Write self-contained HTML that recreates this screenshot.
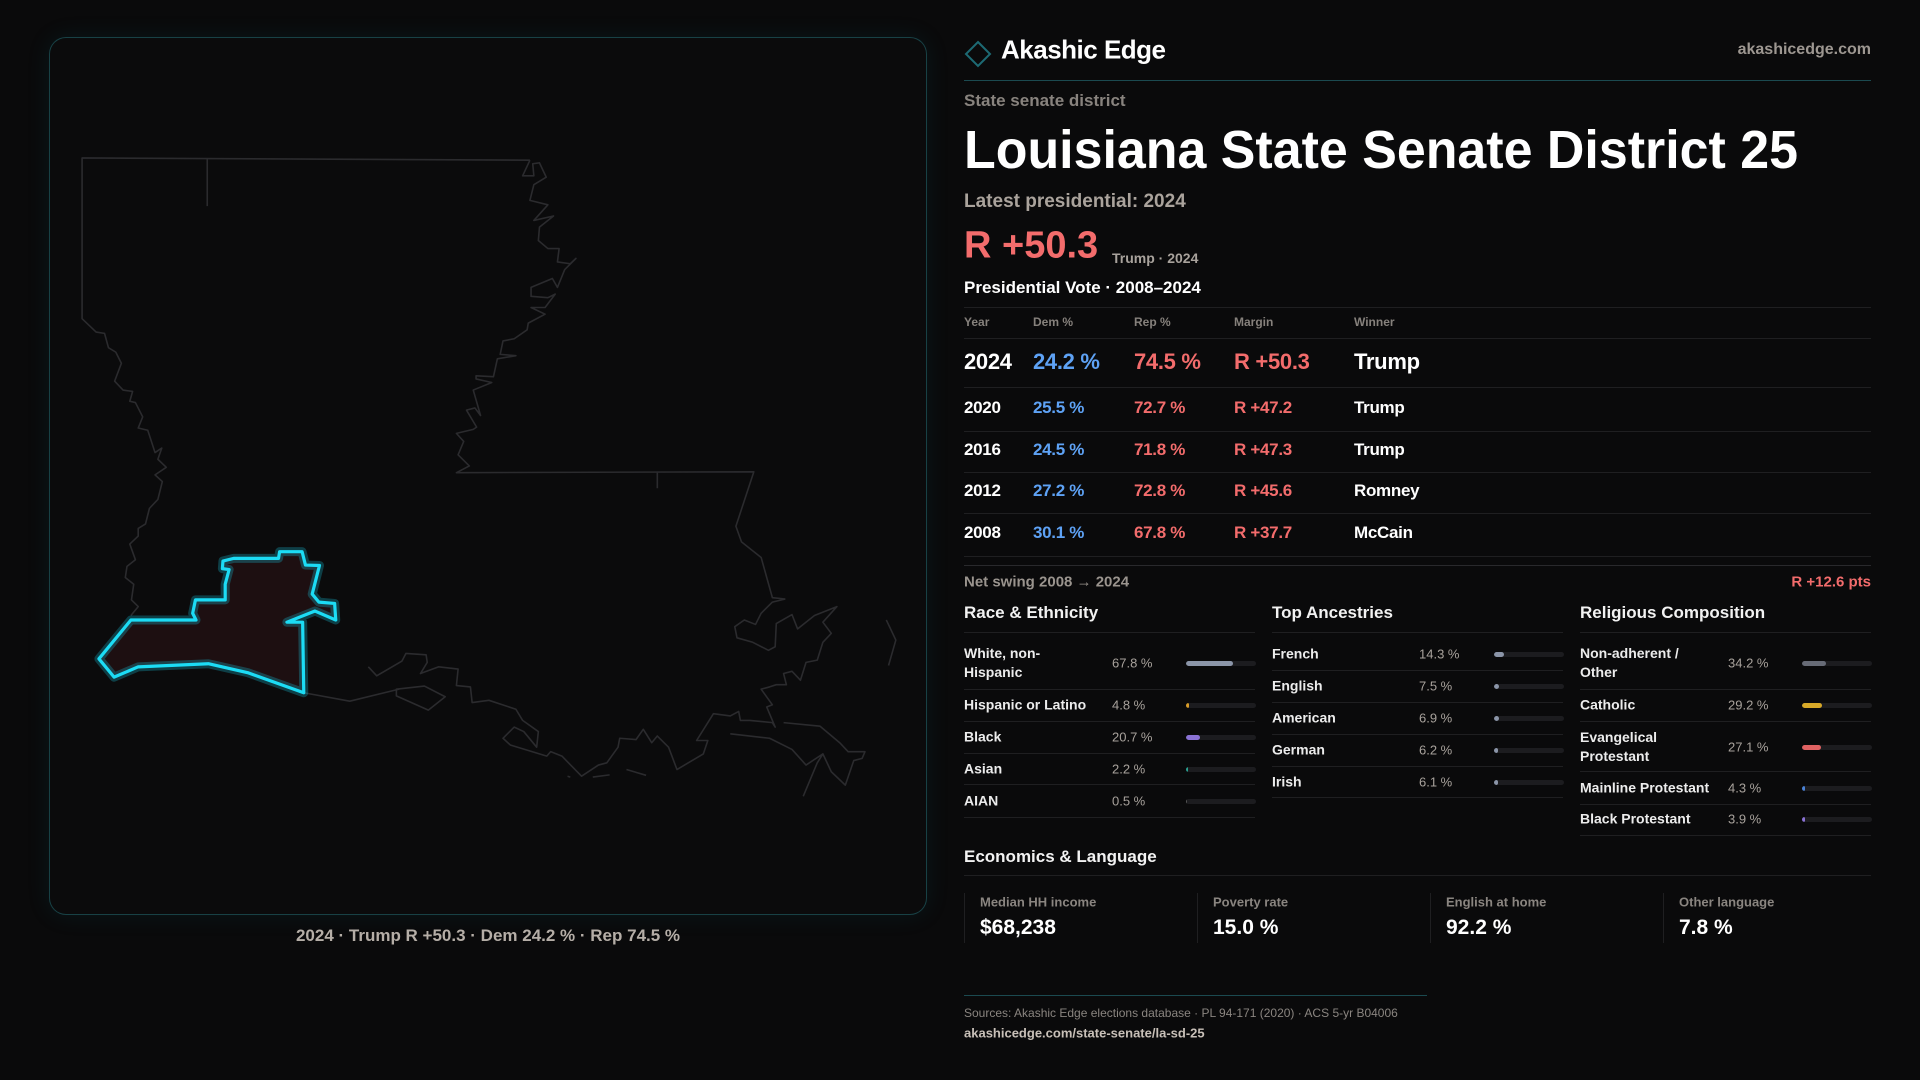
<!DOCTYPE html>
<html><head><meta charset="utf-8"><style>
*{margin:0;padding:0;box-sizing:border-box}
body{width:1920px;height:1080px;background:#0a0a0b;font-family:"Liberation Sans",sans-serif;color:#fff;position:relative;overflow:hidden}
.a{position:absolute;white-space:nowrap}
.mid{transform:translateY(-50%)}
.hl{position:absolute;left:964px;width:907px;height:1px;background:#1f1f21}
.col-h{font-size:17px;font-weight:bold;color:#f2f2f2}
.lbl{font-size:14px;font-weight:bold;color:#ececec;line-height:19px}
.val{font-size:13px;color:#a8a29c}
.track{position:absolute;height:5px;border-radius:3px;background:#1c1c1f;overflow:hidden}
.fill{height:100%;border-radius:3px}
</style></head><body>
<div class="a" style="left:49px;top:37px;width:878px;height:878px;border:1px solid rgba(40,130,140,0.45);border-radius:17px;background:#0b0b0c;box-shadow:0 0 24px rgba(20,120,140,0.12)"></div>
<svg class="a" style="left:0;top:0" width="960" height="930">
<g transform="matrix(0.5612,0,0,0.4464,40,120)" fill="none" stroke="#2b2b2e" stroke-width="1.6" stroke-linejoin="round">
<path vector-effect="non-scaling-stroke" d="M873,90 L75,85 L75,445 L100,475 L115,478 L122,510 L135,520 L145,545 L133,585 L148,605 L165,608 L160,630 L170,633 L183,665 L175,690 L192,695 L205,745 L217,735 L210,760 L225,778 L205,795 L218,810 L210,850 L195,870 L188,905 L175,915 L175,932 L160,950 L170,985 L155,1000 L152,1025 L167,1040 L163,1075 L175,1090 L162,1110"/>
<path vector-effect="non-scaling-stroke" d="M873,90 L860,125 L880,125 L878,98 L890,96 L902,128 L880,145 L873,180 L905,190 L880,225 L915,215 L890,240 L888,270 L905,288 L925,288 L922,318 L945,322 L955,310 L935,335 L922,375 L913,355 L875,375 L875,395 L905,398 L918,390 L900,420 L875,420 L900,435 L870,455 L868,470 L845,490 L825,495 L820,525 L848,528 L815,535 L808,575 L777,573 L777,580 L805,588 L772,605 L785,662 L775,645 L760,650 L778,688 L772,693 L742,702 L755,720 L745,750 L765,775 L742,790 L1272,788 L1240,910 L1250,945 L1285,980 L1305,1070 L1328,1073"/>
<path vector-effect="non-scaling-stroke" d="M298,85 L298,193 M1100,790 L1100,825"/>
<path vector-effect="non-scaling-stroke" d="M470,1283 L552,1302 L640,1275 M585,1225 L600,1245 L645,1212 L652,1195 L688,1198 L690,1215 L678,1240 L710,1225 L745,1230 L742,1267 L767,1270 L770,1305 L800,1300 L848,1320 L860,1345 L888,1370 L885,1405 L862,1370 L845,1360 L825,1385 L838,1400 L903,1425 L910,1415 L930,1425 L965,1470 L995,1445 L1010,1440 L1030,1405 L1033,1385 L1062,1388 L1075,1365 L1090,1395 L1100,1380 L1120,1405 L1135,1455 L1182,1420 L1190,1390 L1170,1390 L1200,1330 L1230,1335 L1245,1325 L1248,1345 L1265,1345 L1305,1350 L1310,1360 L1295,1315 L1305,1310 L1285,1275 L1300,1270 L1312,1265 L1330,1265 L1325,1240 L1340,1235 L1355,1255 L1365,1215 L1385,1210 L1395,1170 L1410,1150 L1395,1125 L1420,1090 L1380,1110 L1350,1140 L1340,1108 L1312,1128 L1310,1180 L1298,1188 L1270,1170 L1242,1160 L1238,1135 L1255,1120 L1275,1130 L1285,1105 L1305,1080 L1328,1073"/>
<path vector-effect="non-scaling-stroke" d="M1325,1350 L1390,1358 L1425,1395 L1440,1415 L1470,1415 L1465,1430 L1450,1435 L1435,1490 L1410,1460 L1395,1420 L1385,1440 L1360,1515 M1230,1375 L1300,1385 L1340,1410 L1365,1445 L1395,1420 M1508,1120 L1525,1165 L1512,1222 M635,1275 L685,1268 L722,1292 L692,1322 L635,1290 Z M940,1470 L945,1472 M985,1472 L1015,1467 M1045,1455 L1080,1468"/>
<path vector-effect="non-scaling-stroke" stroke="rgba(25,200,225,0.28)" stroke-width="9" fill="#1d0f11" d="M105,1207 L162,1120 L278,1120 L272,1105 L277,1075 L330,1075 L330,1040 L337,1007 L325,1005 L326,988 L345,982 L425,982 L427,967 L467,967 L473,997 L498,998 L485,1062 L497,1080 L525,1083 L527,1120 L490,1100 L440,1125 L468,1125 L470,1283 L370,1238 L300,1218 L175,1225 L132,1248 Z"/>
<path vector-effect="non-scaling-stroke" stroke="#1cdcf5" stroke-width="3.2" d="M105,1207 L162,1120 L278,1120 L272,1105 L277,1075 L330,1075 L330,1040 L337,1007 L325,1005 L326,988 L345,982 L425,982 L427,967 L467,967 L473,997 L498,998 L485,1062 L497,1080 L525,1083 L527,1120 L490,1100 L440,1125 L468,1125 L470,1283 L370,1238 L300,1218 L175,1225 L132,1248 Z"/>
</g></svg>
<div class="a mid" style="left:0;width:976px;text-align:center;top:936px;font-size:17px;font-weight:bold;color:#b5aea7">2024 · Trump R +50.3 · Dem 24.2 % · Rep 74.5 %</div>

<svg class="a" style="left:964px;top:40px" width="28" height="28"><path d="M14,2 L26,14 L14,26 L2,14 Z" fill="none" stroke="#1d6a74" stroke-width="2"/></svg>
<div class="a mid" style="left:1001px;top:50px;font-size:26px;font-weight:bold;letter-spacing:-0.5px">Akashic Edge</div>
<div class="a mid" style="right:49px;top:50px;font-size:16px;font-weight:bold;color:#9d9791">akashicedge.com</div>
<div class="a" style="left:964px;top:80px;width:907px;height:1px;background:#1b4a50"></div>
<div class="a mid" style="left:964px;top:101px;font-size:17px;font-weight:bold;color:#88837e">State senate district</div>
<svg class="a" style="left:964px;top:115px" width="900" height="70"><text x="0" y="53" font-family="Liberation Sans" font-weight="bold" font-size="54" fill="#fff" textLength="834" lengthAdjust="spacingAndGlyphs">Louisiana State Senate District 25</text></svg>
<div class="a mid" style="left:964px;top:202px;font-size:19px;font-weight:bold;color:#aaa39c">Latest presidential: 2024</div>
<div class="a mid" style="left:964px;top:246px;font-size:38px;font-weight:bold;color:#f36c6c">R +50.3</div>
<div class="a mid" style="left:1112px;top:258px;font-size:14px;font-weight:bold;color:#a8a29c">Trump · 2024</div>
<div class="a mid" style="left:964px;top:288px;font-size:17px;font-weight:bold">Presidential Vote · 2008–2024</div>
<div class="hl" style="top:307px"></div>
<div class="hl" style="top:338px"></div>
<div id="tbl"></div>
<div class="hl" style="top:556px"></div>
<div class="hl" style="top:565px;background:#29292c"></div>
<div class="a mid" style="left:964px;top:582px;font-size:15px;font-weight:bold;color:#9a948e">Net swing 2008 → 2024</div>
<div class="a mid" style="right:49px;top:582px;font-size:15px;font-weight:bold;color:#f36c6c">R +12.6 pts</div>
<div id="cols"></div>
<div class="a mid col-h" style="left:964px;top:857px">Economics &amp; Language</div>
<div class="hl" style="top:875px"></div>
<div id="econ"></div>
<div class="a" style="left:964px;top:995px;width:463px;height:1px;background:#1b4a50"></div>
<div class="a mid" style="left:964px;top:1013px;font-size:12px;color:#8a8580">Sources: Akashic Edge elections database · PL 94-171 (2020) · ACS 5-yr B04006</div>
<div class="a mid" style="left:964px;top:1033px;font-size:13px;font-weight:bold;color:#c8c0b8">akashicedge.com/state-senate/la-sd-25</div>

<script>
const years=["2024","2020","2016","2012","2008"];
const demPct=[24.2,25.5,24.5,27.2,30.1];
const repPct=[74.5,72.7,71.8,72.8,67.8];
const winners=["Trump","Trump","Trump","Romney","McCain"];
const raceLabels=["White, non-\nHispanic","Hispanic or Latino","Black","Asian","AIAN"];
const raceValues=[67.8,4.8,20.7,2.2,0.5];
const ancLabels=["French","English","American","German","Irish"];
const ancValues=[14.3,7.5,6.9,6.2,6.1];
const relLabels=["Non-adherent /\nOther","Catholic","Evangelical\nProtestant","Mainline Protestant","Black Protestant"];
const relValues=[34.2,29.2,27.1,4.3,3.9];
const econLabels=["Median HH income","Poverty rate","English at home","Other language"];
const econValues=["$68,238","15.0 %","92.2 %","7.8 %"];

function mk(parent,cls,style,text){const d=document.createElement('div');d.className=cls;d.style.cssText=style;if(text!==undefined)d.textContent=text;parent.appendChild(d);return d;}
const tbl=document.getElementById('tbl');
const colX=[964,1033,1134,1234,1354];
const hdr=["Year","Dem %","Rep %","Margin","Winner"];
hdr.forEach((h,i)=>{const e=mk(tbl,'a mid',`left:${colX[i]}px;top:322px;font-size:12px;font-weight:bold;color:#86817c`,h);

});
const rowY=[362,408,450,491,533];
const lineY=[387,431,472,513];
lineY.forEach(y=>{const l=mk(tbl,'hl',`top:${y}px`);});
years.forEach((y,i)=>{
 const fs=i===0?22:17;
 const m=repPct[i]-demPct[i];
 const cells=[y,demPct[i].toFixed(1)+" %",repPct[i].toFixed(1)+" %","R +"+m.toFixed(1),winners[i]];
 const cols=["#fff","#5ea2f5","#f36c6c","#f36c6c","#fff"];
 cells.forEach((c,j)=>{const e=mk(tbl,'a mid',`left:${colX[j]}px;top:${rowY[i]}px;font-size:${fs}px;font-weight:bold;color:${cols[j]};letter-spacing:-0.3px`,c);
 
 });
});
const cols=document.getElementById('cols');
function panel(x,title,labels,values,colors,lines,centers,valX,barX){
 const t=mk(cols,'a mid col-h',`left:${x}px;top:613px`,title);
 
 
 mk(cols,'a',`left:${x}px;top:632px;width:291px;height:1px;background:#1f1f21`);
 lines.forEach(y=>mk(cols,'a',`left:${x}px;top:${y}px;width:291px;height:1px;background:#1f1f21`));
 labels.forEach((l,i)=>{
  const e=mk(cols,'a mid lbl',`left:${x}px;top:${centers[i]}px;white-space:pre`,l);
  
  
  const v=mk(cols,'a mid val',`left:${valX}px;top:${centers[i]}px`,values[i].toFixed(1)+" %");
  
  
  const tr=mk(cols,'track',`left:${barX}px;top:${centers[i]-2.5}px;width:70px`);
  
  
  const f=mk(tr,'fill',`width:${Math.max(values[i]/100*70, values[i]>=1?2:0)}px;background:${colors[i]}`);
  
  
 });
}
panel(964,"Race & Ethnicity",raceLabels,raceValues,["#8b95a8","#d99d28","#8a72d4","#2aa090","#555"],[689,721,753,784,817],[663,705,737,769,801],1112,1186);
panel(1272,"Top Ancestries",ancLabels,ancValues,["#8b95a8","#8b95a8","#8b95a8","#8b95a8","#8b95a8"],[670,702,734,766,797],[654,686,718,750,782],1419,1494);
panel(1580,"Religious Composition",relLabels,relValues,["#676b76","#d8a928","#e06262","#4a82d6","#8a72d4"],[689,721,771,804,835],[663,705,747,788,819],1728,1802);
const econ=document.getElementById('econ');
const ex=[964,1197,1430,1663];
econLabels.forEach((l,i)=>{
 mk(econ,'a',`left:${ex[i]}px;top:893px;width:1px;height:50px;background:#1f1f21`);
 const a=mk(econ,'a mid',`left:${ex[i]+16}px;top:902px;font-size:13px;font-weight:bold;color:#8a8580`,l);
 
 
 const b=mk(econ,'a mid',`left:${ex[i]+16}px;top:928px;font-size:21px;font-weight:bold;color:#fff`,econValues[i]);
 
 
});
</script>
</body></html>
